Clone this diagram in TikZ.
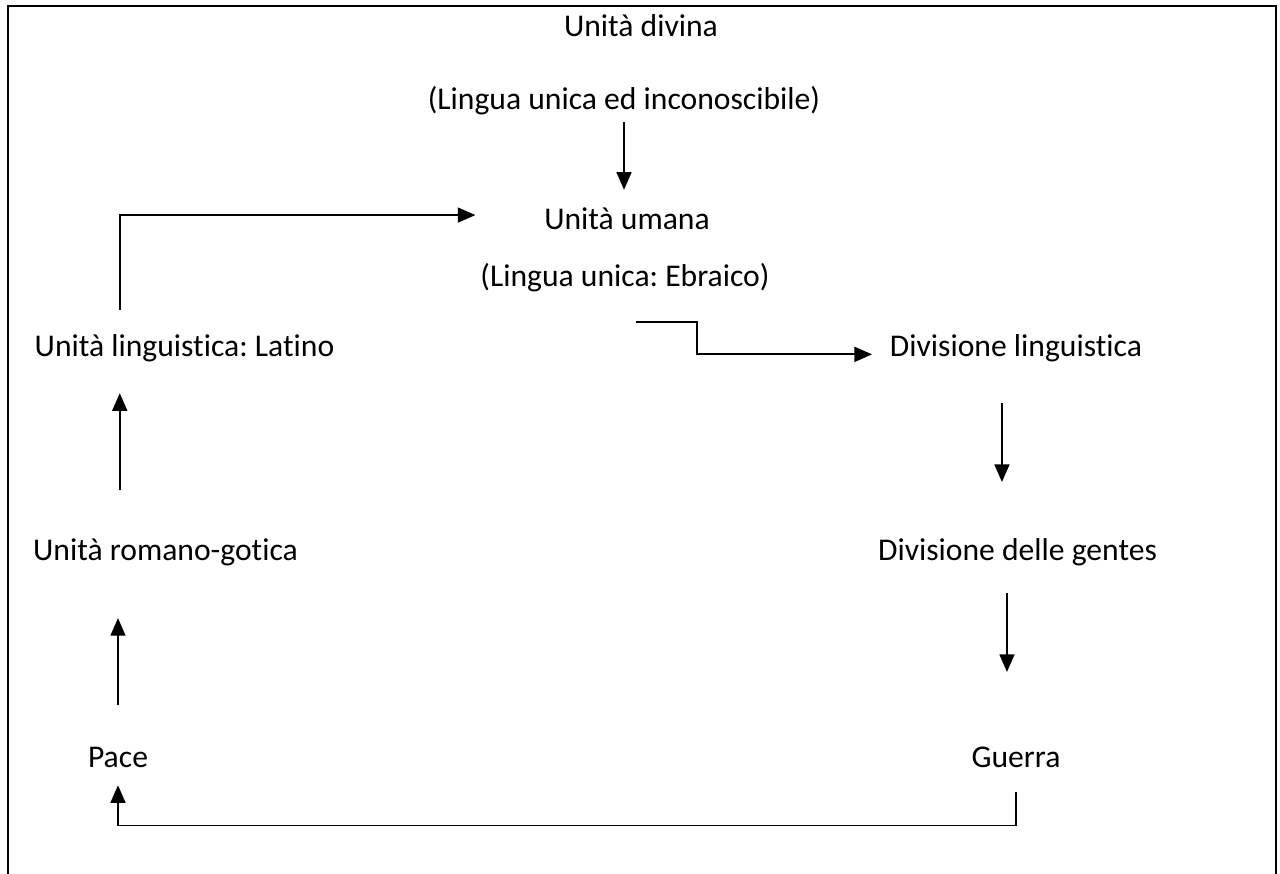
\documentclass[tikz,border=0pt]{standalone}
\usepackage{fontspec}
\setmainfont[Ligatures=NoCommon]{Carlito}
\usetikzlibrary{arrows.meta}
\tikzset{
	txt/.style={font=\fontsize{18}{22}\selectfont\frenchspacing, inner sep=0pt, text height=13pt, text depth=4pt, anchor=base},
	flow/.style={line width=1pt, -{Triangle[length=10pt,width=8.5pt]}},
}
\begin{document}
\begin{tikzpicture}[x=0.02cm,y=-0.02cm]
	\useasboundingbox (0,0) rectangle (1280,874);
	\draw[line width=1.5pt] (8,874) |- (1276,6) -- (1276,874);
	
	\node[txt] at (641,37) (divina) {Unità divina};
	\node[txt] at (624,110) (inconosc) {(Lingua unica ed inconoscibile)};
	\node[txt] at (627,230) (umana) {Unità umana};
	\node[txt] at (625,287) (ebraico) {(Lingua unica: Ebraico)};
	\node[txt] at (184.5,357) (latino) {Unità linguistica: Latino};
	\node[txt] at (1016,357) (divling) {Divisione linguistica};
	\node[txt] at (165.5,560) (romano) {Unità romano-gotica};
	\node[txt] at (1017.5,560) (gentes) {Divisione delle gentes};
	\node[txt] at (118,767) (pace) {Pace};
	\node[txt] at (1016,767) (guerra) {Guerra};
	
	\draw[flow, shorten <=2.8pt, shorten >=9.7pt] (inconosc.south) -- (inconosc.south |- umana.north);
	\draw[flow, shorten <=22pt, shorten >=31.2pt] ([xshift=-8pt]divling.south) -- ([xshift=-8pt]divling.south |- gentes.north);
	\draw[flow, shorten <=14.7pt, shorten >=40.9pt] ([xshift=-6pt]gentes.south) -- ([xshift=-6pt]gentes.south |- guerra.north);
	\draw[flow, shorten <=22.2pt, shorten >=28.9pt] (pace.north) -- (pace.north |- romano.south);
	\draw[flow, shorten <=26.7pt, shorten >=16.4pt] ([xshift=1pt]pace.north |- romano.north) -- ([xshift=1pt]pace.north |- latino.south);
	\draw[flow, shorten <=13.7pt, shorten >=39pt] ([xshift=1pt]pace.north |- latino.north) |- ([yshift=8.5pt]umana.base west);
	\draw[flow, shorten >=10pt] ([xshift=6.2pt,yshift=-15.9pt]ebraico.south) -- ++(61,0) |- ([yshift=-3pt]divling.west);
	\draw[flow, shorten <=10.2pt, shorten >=6.2pt] (guerra.south) -- ++(0,51) -| (pace.south);
\end{tikzpicture}
\end{document}
